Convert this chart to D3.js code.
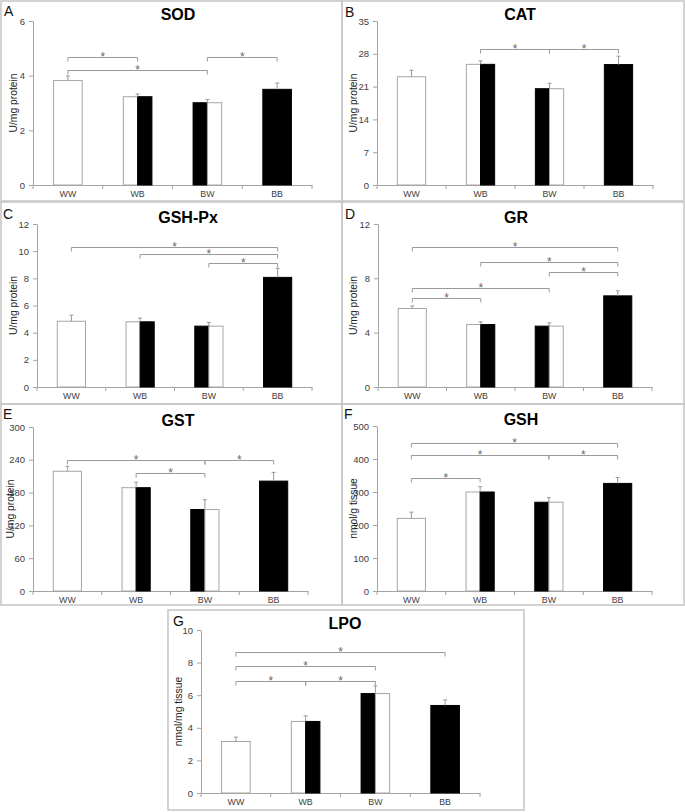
<!DOCTYPE html>
<html><head><meta charset="utf-8">
<script src="https://cdn.jsdelivr.net/npm/d3@7"></script>
<style>
html,body{margin:0;padding:0;background:#fff;}
svg{display:block;font-family:"Liberation Sans",Arial,sans-serif;}
</style></head>
<body>
<svg id="chart" width="685" height="812"></svg>
<script>
// ---------- data ----------
const categories = ["WW", "WB", "BW", "BB"];

const sodMeans = [3.82, 3.23, 3.01, 3.5];
const sodErrors = [0.17, 0.10, 0.12, 0.23];
const sodTicks = [0, 2, 4, 6];
const sodSig = [[0, 1, 4.7], [0, 2, 4.2], [2, 3, 4.7]];

const catMeans = [23.1, 25.75, 20.55, 25.7];
const catErrors = [1.4, 0.75, 1.15, 1.8];
const catTicks = [0, 7, 14, 21, 28, 35];
const catSig = [[1, 2, 29.0], [2, 3, 29.0]];

const gpxMeans = [4.84, 4.8, 4.48, 8.07];
const gpxErrors = [0.45, 0.27, 0.27, 0.66];
const gpxTicks = [0, 2, 4, 6, 8, 10, 12];
const gpxSig = [[0, 3, 10.33], [1, 3, 9.79], [2, 3, 9.15]];

const grMeans = [5.78, 4.6, 4.48, 6.71];
const grErrors = [0.19, 0.2, 0.24, 0.37];
const grTicks = [0, 4, 8, 12];
const grSig = [[0, 3, 10.33], [1, 3, 9.22], [2, 3, 8.43], [0, 2, 7.3], [0, 1, 6.52]];

const gstMeans = [219, 189, 149, 201];
const gstErrors = [9, 10, 18, 16];
const gstTicks = [0, 60, 120, 180, 240, 300];
const gstSig = [[0, 2, 240], [2, 3, 240], [1, 2, 216]];

const gshMeans = [220, 300, 269, 326];
const gshErrors = [19, 16, 14, 18];
const gshTicks = [0, 100, 200, 300, 400, 500];
const gshSig = [[0, 3, 450], [0, 2, 412], [2, 3, 412], [0, 1, 341]];

const lpoMeans = [3.16, 4.39, 6.1, 5.37];
const lpoErrors = [0.27, 0.34, 0.47, 0.34];
const lpoTicks = [0, 2, 4, 6, 8, 10];
const lpoSig = [[0, 3, 8.67], [0, 2, 7.8], [0, 1, 6.9], [1, 2, 6.9]];

const panelLetters = ["A", "B", "C", "D", "E", "F", "G"];
const panelTitles = ["SOD", "CAT", "GSH-Px", "GR", "GST", "GSH", "LPO"];
const yLabels = ["U/mg protein", "U/mg protein", "U/mg protein", "U/mg protein", "U/mg protein", "nmol/g tissue", "nmol/mg tissue"];

// ---------- layout ----------
const layout = [
  {box:[1,1,341,200],   plot:[33,21,312,185],   titleX:178, letter:[4,16],    ylx:13},
  {box:[342,1,342,200], plot:[377,21,653,185],  titleX:520, letter:[345,17],  ylx:353},
  {box:[1,202,341,202], plot:[37,224,312,387],  titleX:188, letter:[3,219],   ylx:13},
  {box:[342,202,342,202], plot:[378,224,652,387], titleX:516, letter:[345,219], ylx:353},
  {box:[1,404,341,201], plot:[33,427,308,591],  titleX:178, letter:[3,419],   ylx:10},
  {box:[342,404,342,201], plot:[377,426,652,591], titleX:521, letter:[344,419], ylx:353},
  {box:[168,610,356,200], plot:[201,630,480,793], titleX:345, letter:[173,626], ylx:178}
];

const panelData = [
  [sodMeans, sodErrors, sodTicks, sodSig],
  [catMeans, catErrors, catTicks, catSig],
  [gpxMeans, gpxErrors, gpxTicks, gpxSig],
  [grMeans, grErrors, grTicks, grSig],
  [gstMeans, gstErrors, gstTicks, gstSig],
  [gshMeans, gshErrors, gshTicks, gshSig],
  [lpoMeans, lpoErrors, lpoTicks, lpoSig]
];

const svg = d3.select("#chart");
svg.append("rect").attr("width", 685).attr("height", 812).attr("fill", "#fff");

const AXIS = "#a3a3a3", OUT = "#a6a6a6", TXT = "#404040";

panelData.forEach((pd, k) => {
  const [means, errors, ticks, sig] = pd;
  const L = layout[k];
  const g = svg.append("g");
  g.append("rect").attr("x", L.box[0]).attr("y", L.box[1])
    .attr("width", L.box[2]).attr("height", L.box[3])
    .attr("fill", "none").attr("stroke", "#c8c8c8").attr("stroke-width", 1.6);

  const [l, t, r, b] = L.plot;
  const x = d3.scaleBand().domain(categories).range([l, r]).paddingInner(0.59).paddingOuter(0.295);
  const y = d3.scaleLinear().domain([0, d3.max(ticks)]).range([b, t]);

  // y axis
  const ya = g.append("g").attr("transform", `translate(${l},0)`)
    .call(d3.axisLeft(y).tickValues(ticks).tickFormat(d3.format("d")).tickSize(4).tickPadding(4).tickSizeOuter(0));
  ya.selectAll("path,line").attr("stroke", AXIS);
  ya.selectAll("text").attr("fill", TXT).style("font-size", "9.5px").style("font-family", "'Liberation Sans',Arial,sans-serif");

  // x axis
  const xa = g.append("g").attr("transform", `translate(0,${b})`)
    .call(d3.axisBottom(x).tickSize(0).tickPadding(6).tickSizeOuter(0));
  xa.selectAll("path").attr("stroke", AXIS);
  xa.selectAll("text").attr("fill", TXT).style("font-size", "8.8px").style("font-family", "'Liberation Sans',Arial,sans-serif");
  d3.range(categories.length + 1).forEach(i => {
    const bx = l + i * x.step();
    g.append("line").attr("x1", bx).attr("x2", bx).attr("y1", b).attr("y2", b + 4).attr("stroke", AXIS);
  });

  // bars
  categories.forEach((c, i) => {
    const v = means[i];
    const parts = c.split("");
    const bw = x.bandwidth();
    if (parts[0] === parts[1]) {
      const black = parts[0] === "B";
      g.append("rect").attr("x", x(c)).attr("y", y(v)).attr("width", bw).attr("height", y(0) - y(v))
        .attr("fill", black ? "#000" : "#fff").attr("stroke", black ? "#000" : OUT).attr("stroke-width", 1);
    } else {
      parts.forEach((p, j) => {
        const black = p === "B";
        g.append("rect").attr("x", x(c) + j * bw / 2).attr("y", y(v)).attr("width", bw / 2).attr("height", y(0) - y(v))
          .attr("fill", black ? "#000" : "#fff").attr("stroke", black ? "#000" : OUT).attr("stroke-width", 1);
      });
    }
    // error bar (upper only)
    const cx = x(c) + bw / 2;
    g.append("line").attr("x1", cx).attr("x2", cx).attr("y1", y(v)).attr("y2", y(v + errors[i])).attr("stroke", "#999");
    g.append("line").attr("x1", cx - 2).attr("x2", cx + 2).attr("y1", y(v + errors[i])).attr("y2", y(v + errors[i])).attr("stroke", "#999");
  });

  // significance brackets
  sig.forEach(([i, j, v]) => {
    const x1 = x(categories[i]) + x.bandwidth() / 2;
    const x2 = x(categories[j]) + x.bandwidth() / 2;
    const yy = Math.round(y(v)) + 0.5;
    g.append("path").attr("d", `M${x1},${yy + 4}V${yy}H${x2}V${yy + 4}`)
      .attr("fill", "none").attr("stroke", "#9a9a9a").attr("stroke-width", 1);
    g.append("text").attr("x", (x1 + x2) / 2).attr("y", yy + 3).attr("text-anchor", "middle")
      .style("font-size", "12px").attr("fill", "#6a6a6a").text("*");
  });

  // title
  g.append("text").attr("x", L.titleX).attr("y", t - 1).attr("text-anchor", "middle")
    .style("font-size", "16px").style("font-weight", "bold").attr("fill", "#000").text(panelTitles[k]);
  // panel letter
  g.append("text").attr("x", L.letter[0]).attr("y", L.letter[1])
    .style("font-size", "14px").attr("fill", "#111").text(panelLetters[k]);
  // y label
  g.append("text").attr("transform", `translate(${L.ylx},${(t + b) / 2}) rotate(-90)`)
    .attr("dy", "0.35em").attr("text-anchor", "middle")
    .style("font-size", "10.3px").attr("fill", "#222").text(yLabels[k]);
});
</script>
</body></html>
